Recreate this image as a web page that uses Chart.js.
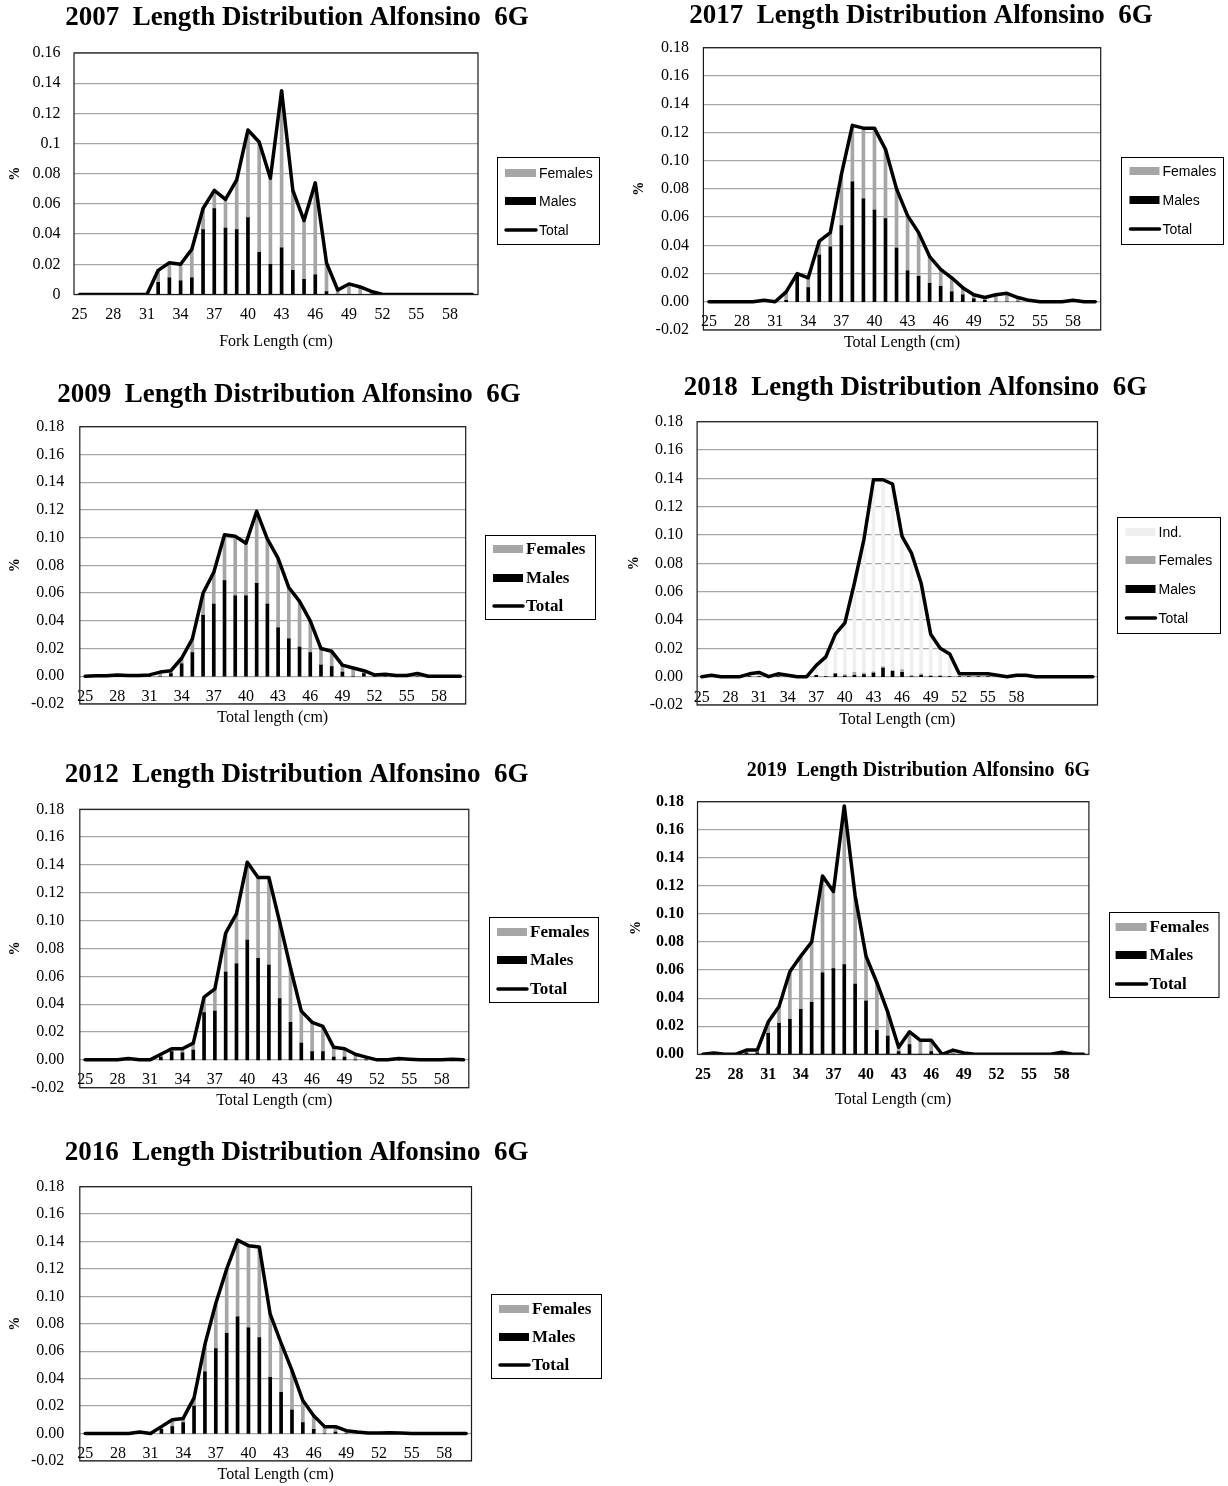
<!DOCTYPE html>
<html>
<head>
<meta charset="utf-8">
<script src="https://cdn.jsdelivr.net/npm/chart.js@4.4.1/dist/chart.umd.min.js"></script>
<style>
  body { margin: 0; background: #fff; }
  #page { position: relative; width: 1228px; height: 1486px; overflow: hidden; }
</style>
</head>
<body>
<div id="page"></div>
<script>
// length classes (cm)
const lengths = ['25','26','27','28','29','30','31','32','33','34','35','36',
                 '37','38','39','40','41','42','43','44','45','46','47','48',
                 '49','50','51','52','53','54','55','56','57','58','59','60'];
const lengths2018 = [...lengths, '61','62','63','64','65','66'];
const tickLabels = ['25','28','31','34','37','40','43','46','49','52','55','58'];
const yTicks = { step: 0.02 };

// 2007
const total2007   = [0,0,0,0,0,0,0,.016,.021,.020,.030,.057,
                     .069,.063,.076,.109,.101,.077,.135,.069,.049,.074,.021,.003,
                     .007,.005,.002,0,0,0,0,0,0,0,0,0];
const males2007   = [0,0,0,0,0,0,0,.008,.011,.009,.011,.043,
                     .057,.044,.043,.051,.028,.020,.031,.016,.010,.013,.002,0,
                     0,0,0,0,0,0,0,0,0,0,0,0];
const females2007 = [0,0,0,0,0,0,0,.008,.010,.011,.019,.014,
                     .012,.019,.033,.058,.073,.057,.104,.053,.039,.061,.019,.003,
                     .007,.005,.002,0,0,0,0,0,0,0,0,0];

// 2009
const total2009   = [0,.0003,.0003,.001,.0005,.0005,.001,.003,.004,.013,.027,.060,
                     .075,.102,.101,.096,.119,.099,.085,.064,.054,.040,.020,.018,
                     .008,.006,.004,.001,.0015,.0005,.0005,.002,0,0,0,0];
const males2009   = [0,0,0,0,0,0,0,0,.002,.009,.017,.044,
                     .052,.069,.058,.058,.067,.052,.035,.027,.021,.017,.008,.007,
                     .003,0,.002,0,0,0,0,0,0,0,0,0];
const females2009 = [0,.0003,.0003,.001,.0005,.0005,.001,.003,.002,.004,.010,.016,
                     .023,.033,.043,.038,.052,.047,.050,.037,.033,.023,.012,.011,
                     .005,.006,.002,.001,.0015,.0005,.0005,.002,0,0,0,0];

// 2012
const total2012   = [0,0,0,0,.001,0,0,.004,.008,.008,.012,.045,
                     .051,.091,.105,.142,.131,.131,.099,.066,.035,.027,.024,.009,
                     .008,.004,.002,0,0,.001,.0005,0,0,0,.0005,0];
const males2012   = [0,0,0,0,0,0,0,.002,.006,.005,.007,.034,
                     .035,.063,.069,.086,.073,.068,.044,.027,.012,.006,.006,.002,
                     .002,0,0,0,0,0,0,0,0,0,0,0];
const females2012 = [0,0,0,0,.001,0,0,.002,.002,.003,.005,.011,
                     .016,.028,.036,.056,.058,.063,.055,.039,.023,.021,.018,.007,
                     .006,.004,.002,0,0,.001,.0005,0,0,0,.0005,0];

// 2016
const total2016   = [0,0,0,0,0,.001,0,.005,.010,.011,.026,.065,
                     .095,.120,.141,.137,.136,.087,.066,.046,.024,.013,.005,.005,
                     .002,.001,.0003,.0003,.0005,.0003,0,0,0,0,0,0];
const males2016   = [0,0,0,0,0,0,0,.003,.005,.008,.020,.045,
                     .062,.073,.085,.077,.070,.041,.030,.017,.008,.003,0,.001,
                     0,0,0,0,0,0,0,0,0,0,0,0];
const females2016 = [0,0,0,0,0,.001,0,.002,.005,.003,.006,.020,
                     .033,.047,.056,.060,.066,.046,.036,.029,.016,.010,.005,.004,
                     .002,.001,.0003,.0003,.0005,.0003,0,0,0,0,0,0];

// 2017
const total2017   = [0,0,0,0,0,.001,0,.007,.020,.017,.043,.049,
                     .090,.125,.123,.123,.108,.080,.061,.049,.032,.023,.017,.010,
                     .005,.003,.005,.006,.003,.001,0,0,0,.001,0,0];
const males2017   = [0,0,0,0,0,0,0,.001,.020,.010,.033,.039,
                     .054,.085,.073,.065,.059,.038,.022,.018,.013,.011,.007,.005,
                     .002,.001,0,0,0,0,0,0,0,0,0,0];
const females2017 = [0,0,0,0,0,.001,0,.006,0,.007,.010,.010,
                     .036,.040,.050,.058,.049,.042,.039,.031,.019,.012,.010,.005,
                     .003,.002,.005,.006,.003,.001,0,0,0,.001,0,0];

// 2018 (includes undetermined sex)
const total2018   = [0,.001,0,0,0,.002,.003,0,.002,.001,0,0,
                     .008,.014,.030,.038,.066,.097,.139,.139,.136,.099,.087,.066,
                     .030,.020,.016,.002,.002,.002,.002,.001,0,.001,.001,0,
                     0,0,0,0,0,0];
const males2018   = [0,0,0,0,0,0,0,0,0,0,0,0,
                     .001,0,.002,.0005,.001,.0015,.0025,.006,.004,.003,0,.001,
                     .0005,.0005,0,0,0,0,0,0,0,0,0,0,
                     0,0,0,0,0,0];
const females2018 = [0,0,0,0,0,0,0,0,0,0,0,0,
                     0,0,0,.001,.002,.001,.001,.001,0,.002,.001,.001,
                     0,0,0,0,0,0,0,0,0,0,0,0,
                     0,0,0,0,0,0];
const ind2018     = [0,.001,0,0,0,.002,.003,0,.002,.001,0,0,
                     .007,.014,.028,.0365,.063,.0945,.1355,.132,.132,.094,.086,.064,
                     .0295,.0195,.016,.002,.002,.002,.002,.001,0,.001,.001,0,
                     0,0,0,0,0,0];

// 2019
const total2019   = [0,.001,0,0,.003,.003,.023,.034,.059,.070,.080,.127,
                     .116,.177,.113,.070,.051,.030,.005,.016,.010,.010,0,.003,
                     .001,0,0,0,0,0,0,0,0,.0015,0,0];
const males2019   = [0,0,0,0,.001,.001,.015,.022,.025,.032,.037,.058,
                     .061,.064,.050,.038,.017,.013,.002,.007,0,.002,0,0,
                     0,0,0,0,0,0,0,0,0,0,0,0];
const females2019 = [0,.001,0,0,.002,.002,.008,.012,.034,.038,.043,.069,
                     .055,.113,.063,.032,.034,.017,.003,.009,.010,.008,0,.003,
                     .001,0,0,0,0,0,0,0,0,.0015,0,0];

const SERIF = '"Liberation Serif", "DejaVu Serif", serif';
const SANS = '"Liberation Sans", Arial, sans-serif';
const FEMALE = '#a6a6a6', MALE = '#000000', IND = '#efefef';

Chart.defaults.font.family = SERIF;
Chart.defaults.color = '#000';

const clean = v => (Math.abs(v) < 1e-9 ? 0 : Number(v));
const trimFmt = v => String(parseFloat(clean(v).toFixed(2)));
const fixedFmt = v => clean(v).toFixed(2);

const sansLegend = '14px ' + SANS;
const boldLegend = 'bold 17px ' + SERIF;

const panels = [
  { title: '2007  Length Distribution Alfonsino  6G', titleSize: 27, titleX: 297, titleY: 18,
    box: [0, 0, 610, 360], plot: { left: 74, top: 53, right: 478, bottom: 294.5 },
    yMin: 0, yMax: 0.16, fmt: trimFmt, yTickPad: 13.5, yTitleX: 15.6,
    xTitle: 'Fork Length (cm)', xTickPad: 11, xTitlePad: -4,
    labels: lengths, total: total2007,
    bars: [{ label: 'Males', data: males2007, color: MALE }, { label: 'Females', data: females2007, color: FEMALE }],
    legend: { x: 497, y: 157, w: 102, h: 87, rows: [173, 201, 230], sx: 8, sw: 31, font: sansLegend } },

  { title: '2017  Length Distribution Alfonsino  6G', titleSize: 27, titleX: 921, titleY: 16,
    box: [610, 0, 618, 360], plot: { left: 703.4, top: 47.7, right: 1100.7, bottom: 330 },
    yMin: -0.02, yMax: 0.18, fmt: fixedFmt, yTickPad: 14.5, yTitleX: 639.6,
    xTitle: 'Total Length (cm)', xTickPad: 10.6, xTitlePad: -8.7,
    labels: lengths, total: total2017,
    bars: [{ label: 'Males', data: males2017, color: MALE }, { label: 'Females', data: females2017, color: FEMALE }],
    legend: { x: 1121, y: 157, w: 102, h: 87, rows: [171, 200, 229], sx: 8.5, sw: 30, font: sansLegend } },

  { title: '2009  Length Distribution Alfonsino  6G', titleSize: 27, titleX: 289, titleY: 395,
    box: [0, 370, 610, 370], plot: { left: 79.8, top: 426.7, right: 465.7, bottom: 704 },
    yMin: -0.02, yMax: 0.18, fmt: fixedFmt, yTickPad: 15.5, yTitleX: 15.6,
    xTitle: 'Total length (cm)', xTickPad: 10.8, xTitlePad: -8.4,
    labels: lengths, total: total2009,
    bars: [{ label: 'Males', data: males2009, color: MALE }, { label: 'Females', data: females2009, color: FEMALE }],
    legend: { x: 485, y: 535, w: 110, h: 84, rows: [549, 578, 606], sx: 8, sw: 30, font: boldLegend } },

  { title: '2018  Length Distribution Alfonsino  6G', titleSize: 27, titleX: 915.5, titleY: 388,
    box: [610, 365, 618, 375], plot: { left: 697.1, top: 421.7, right: 1097.5, bottom: 705 },
    yMin: -0.02, yMax: 0.18, fmt: fixedFmt, yTickPad: 14, yTitleX: 634.4,
    xTitle: 'Total Length (cm)', xTickPad: 11.4, xTitlePad: -8.4,
    labels: lengths2018, total: total2018,
    bars: [{ label: 'Males', data: males2018, color: MALE }, { label: 'Females', data: females2018, color: FEMALE },
           { label: 'Ind.', data: ind2018, color: IND }],
    legend: { x: 1117, y: 517, w: 103, h: 116, rows: [532, 560, 589, 618], sx: 8.5, sw: 30, font: sansLegend } },

  { title: '2012  Length Distribution Alfonsino  6G', titleSize: 27, titleX: 296.6, titleY: 775,
    box: [0, 745, 610, 375], plot: { left: 79.8, top: 809.3, right: 468.8, bottom: 1087.7 },
    yMin: -0.02, yMax: 0.18, fmt: fixedFmt, yTickPad: 15.5, yTitleX: 15.6,
    xTitle: 'Total Length (cm)', xTickPad: 10.5, xTitlePad: -8.7,
    labels: lengths, total: total2012,
    bars: [{ label: 'Males', data: males2012, color: MALE }, { label: 'Females', data: females2012, color: FEMALE }],
    legend: { x: 489, y: 917, w: 109, h: 85, rows: [932, 960, 989], sx: 8, sw: 30, font: boldLegend } },

  { title: '2019  Length Distribution Alfonsino  6G', titleSize: 20, titleX: 918.4, titleY: 771,
    box: [610, 745, 618, 375], plot: { left: 697.5, top: 801.7, right: 1088.9, bottom: 1054.3 },
    yMin: 0, yMax: 0.18, fmt: fixedFmt, yTickPad: 13.4, yTitleX: 636.8, boldTicks: true,
    xTitle: 'Total Length (cm)', xTickPad: 11.1, xTitlePad: -5.7,
    labels: lengths, total: total2019,
    bars: [{ label: 'Males', data: males2019, color: MALE }, { label: 'Females', data: females2019, color: FEMALE }],
    legend: { x: 1108.6, y: 912, w: 109.5, h: 85, rows: [927, 955, 984], sx: 7, sw: 31, font: boldLegend } },

  { title: '2016  Length Distribution Alfonsino  6G', titleSize: 27, titleX: 296.6, titleY: 1153,
    box: [0, 1125, 610, 361], plot: { left: 79.8, top: 1186.7, right: 471.5, bottom: 1463.3 },
    yMin: -0.02, yMax: 0.18, fmt: fixedFmt, yTickPad: 15.5, yTitleX: 15.6,
    xTitle: 'Total Length (cm)', xTickPad: 10.7, xTitlePad: -8.5,
    labels: lengths, total: total2016,
    bars: [{ label: 'Males', data: males2016, color: MALE }, { label: 'Females', data: females2016, color: FEMALE }],
    legend: { x: 491, y: 1294, w: 110, h: 84, rows: [1309, 1337, 1365], sx: 8, sw: 30, font: boldLegend } }
];

// plot frame, title and boxed legend (Excel style)
function framePlugin(p) {
  return {
    id: 'frame',
    afterDraw(chart) {
      const ctx = chart.ctx, a = chart.chartArea;
      const ox = p.box[0], oy = p.box[1];
      ctx.save();
      ctx.strokeStyle = '#1a1a1a';
      ctx.lineWidth = 1.2;
      ctx.strokeRect(a.left, a.top, a.right - a.left, a.bottom - a.top);

      ctx.fillStyle = '#000';
      ctx.font = 'bold ' + p.titleSize + 'px ' + SERIF;
      ctx.textAlign = 'center';
      ctx.textBaseline = 'middle';
      ctx.fillText(p.title, p.titleX - ox, p.titleY - oy);

      const L = p.legend;
      ctx.lineWidth = 1;
      ctx.strokeStyle = '#000';
      ctx.strokeRect(Math.round(L.x - ox) + 0.5, Math.round(L.y - oy) + 0.5, L.w, L.h);
      const ds = chart.data.datasets;
      const items = ds.filter(d => d.type === 'bar').reverse().concat(ds.filter(d => d.type === 'line'));
      items.forEach((d, i) => {
        const cy = L.rows[i] - oy;
        const sx = L.x - ox + L.sx;
        if (d.type === 'line') {
          ctx.strokeStyle = d.borderColor;
          ctx.lineWidth = 3.5;
          ctx.lineCap = 'round';
          ctx.beginPath();
          ctx.moveTo(sx + 1, cy);
          ctx.lineTo(sx + L.sw, cy);
          ctx.stroke();
        } else {
          ctx.fillStyle = d.backgroundColor;
          ctx.fillRect(sx, cy - 4, L.sw, 8);
        }
        ctx.fillStyle = '#000';
        ctx.font = L.font;
        ctx.textAlign = 'left';
        ctx.textBaseline = 'middle';
        ctx.fillText(d.label, sx + L.sw + 3, cy + 1);
      });
      ctx.restore();
    }
  };
}

function buildChart(p) {
  const [bx, by, bw, bh] = p.box;
  const canvas = document.createElement('canvas');
  canvas.width = bw;
  canvas.height = bh;
  canvas.style.cssText = `position:absolute;left:${bx}px;top:${by}px;width:${bw}px;height:${bh}px;`;
  document.getElementById('page').appendChild(canvas);

  const bars = p.bars.map(s => ({
    type: 'bar', label: s.label, data: s.data, backgroundColor: s.color,
    borderWidth: 0, barThickness: 3, stack: 'fish', order: 1
  }));
  const line = {
    type: 'line', label: 'Total', data: p.total, borderColor: '#000', borderWidth: 3.5,
    pointRadius: 0, tension: 0, fill: false, borderJoinStyle: 'round', borderCapStyle: 'round',
    stack: 'total', order: 0
  };
  const tickFont = { family: SERIF, size: 16, weight: p.boldTicks ? 'bold' : 'normal' };

  new Chart(canvas, {
    type: 'bar',
    data: { labels: p.labels, datasets: [...bars, line] },
    options: {
      responsive: false,
      animation: false,
      devicePixelRatio: 1,
      layout: {
        padding: {
          left: 0,
          top: p.plot.top - by,
          right: bx + bw - p.plot.right,
          bottom: by + bh - p.plot.bottom
        }
      },
      plugins: { legend: { display: false }, title: { display: false }, tooltip: { enabled: false } },
      scales: {
        x: {
          position: { y: 0 },
          offset: true,
          grid: { display: false, drawTicks: false },
          border: { display: false },
          ticks: {
            autoSkip: false, maxRotation: 0, padding: p.xTickPad, color: '#000', font: tickFont,
            callback(v) {
              const lab = this.getLabelForValue(v);
              return tickLabels.includes(lab) ? lab : '';
            }
          },
          title: { display: true, text: p.xTitle, color: '#000', font: { family: SERIF, size: 16 },
                   padding: { top: p.xTitlePad, bottom: 0 } }
        },
        y: {
          min: p.yMin, max: p.yMax, stacked: true,
          afterFit(s) { s.width = p.plot.left - bx; },
          grid: { color: '#a6a6a6', lineWidth: 1.3, drawTicks: false },
          border: { display: false },
          ticks: { stepSize: yTicks.step, padding: p.yTickPad, color: '#000', font: tickFont, callback: p.fmt },
          title: { display: true, text: '%', color: '#000', font: { family: SERIF, size: 14, weight: 'bold' },
                   padding: { top: p.yTitleX - bx - 8.4, bottom: 0 } }
        }
      }
    },
    plugins: [framePlugin(p)]
  });
}

panels.forEach(buildChart);
</script>
</body>
</html>
